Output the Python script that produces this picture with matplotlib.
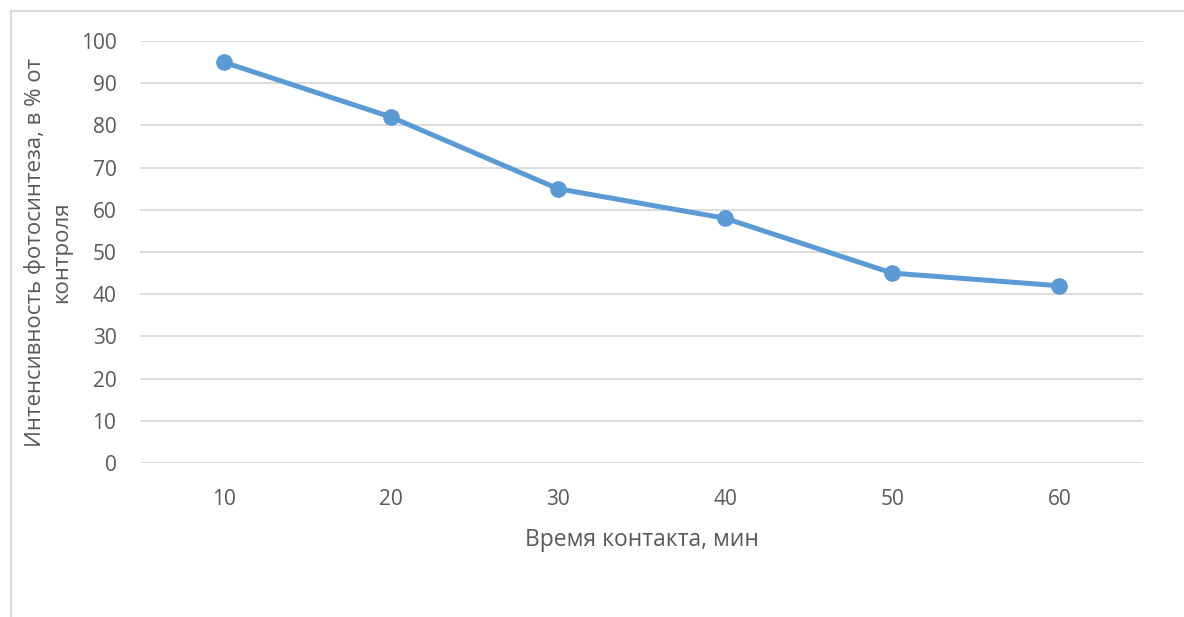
import matplotlib.pyplot as plt
from matplotlib.lines import Line2D

# данные
minutes = [10, 20, 30, 40, 50, 60]
intensity = [95, 82, 65, 58, 45, 42]
y_ticks = list(range(0, 101, 10))

plt.rcParams['font.family'] = ['Open Sans', 'DejaVu Sans']

fig = plt.figure(figsize=(11.84, 6.17), dpi=100)
ax = fig.add_axes([140 / 1184, 1 - 463 / 617, (1143 - 140) / 1184, (463 - 41) / 617])

# рамка области диаграммы (видны только верхняя и левая стороны)
bx, by = 10.5 / 1184, 1 - 10.5 / 617
fig.lines.append(Line2D([bx, 1.0], [by, by], transform=fig.transFigure,
                        color='#D9D9D9', linewidth=1.5))
fig.lines.append(Line2D([bx, bx], [0.0, by], transform=fig.transFigure,
                        color='#D9D9D9', linewidth=1.5))

ax.plot(minutes, intensity, color='#5B9BD5', linewidth=3.6,
        marker='o', markersize=11, solid_capstyle='round', zorder=3)

ax.set_xlim(5, 65)
ax.set_ylim(0, 100)
ax.set_xticks(minutes)
ax.set_yticks(y_ticks)
ax.grid(axis='y', color='#D9D9D9', linewidth=1.3)
ax.set_axisbelow(True)
for s in ax.spines.values():
    s.set_visible(False)
ax.tick_params(length=0, colors='#595959', labelsize=15)
ax.tick_params(axis='y', pad=17)
ax.tick_params(axis='x', pad=19)

ax.set_xlabel('Время контакта, мин', fontsize=16.5, color='#595959', labelpad=13)
ax.set_ylabel('Интенсивность фотосинтеза, в % от\nконтроля', fontsize=16,
              color='#595959', linespacing=1.3, va='center')
ax.yaxis.set_label_coords((48 - 140) / 1003, 0.5)

fig.savefig('out.png', dpi=100, facecolor='white')
